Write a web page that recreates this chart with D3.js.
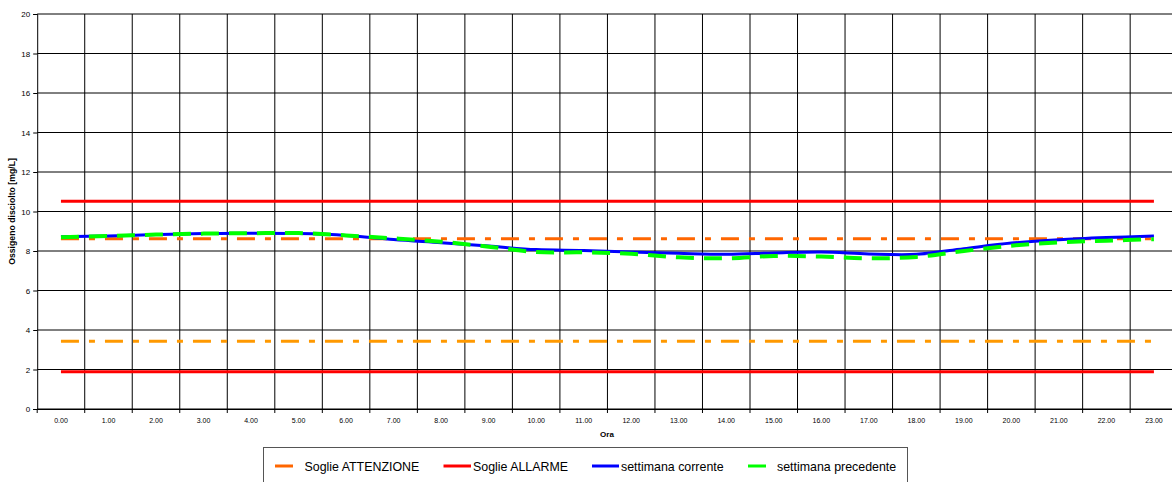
<!DOCTYPE html>
<html><head><meta charset="utf-8">
<script src="https://cdn.jsdelivr.net/npm/d3@7"></script>
<style>body{margin:0;background:#fff;overflow:hidden}svg{display:block;font-family:"Liberation Sans",Arial,sans-serif}</style>
</head><body><svg id="c" width="1172" height="482"></svg>
<script>
const hours = ["0.00","1.00","2.00","3.00","4.00","5.00","6.00","7.00","8.00","9.00","10.00","11.00","12.00","13.00","14.00","15.00","16.00","17.00","18.00","19.00","20.00","21.00","22.00","23.00"];
const corrente = [8.72,8.76,8.83,8.88,8.9,8.88,8.79,8.58,8.42,8.25,8.07,8.03,7.95,7.88,7.83,7.9,7.95,7.85,7.83,8.12,8.4,8.57,8.68,8.76];
const precedente = [8.7,8.76,8.83,8.88,8.9,8.91,8.79,8.64,8.47,8.22,7.95,7.93,7.86,7.68,7.63,7.75,7.72,7.63,7.7,8.0,8.27,8.44,8.52,8.6];
const allarmeAlto = 10.52, allarmeBasso = 1.88;
const attenzioneAlto = 8.62, attenzioneBasso = 3.43;
const yTicks = [0,2,4,6,8,10,12,14,16,18,20];
const legendLabels = ["Soglie ATTENZIONE","Soglie ALLARME","settimana corrente","settimana precedente"];

const svg = d3.select("#c");
const L = 37.2, R = 37.2 + 24*47.52, T = 14, B = 409;
const x = d3.scaleBand().domain(hours).range([L, R]);
const y = d3.scaleLinear().domain([0,20]).range([B, T]);
const cx = h => x(h) + x.bandwidth()/2;

// gridlines
const g = svg.append("g");
g.selectAll(".hg").data(yTicks).join("line")
  .attr("x1", L).attr("x2", 1172).attr("y1", d=>y(d)).attr("y2", d=>y(d))
  .attr("stroke","#000").attr("stroke-width",1);
const bounds = hours.map(h => x(h)).concat([R]);
g.selectAll(".vg").data(bounds.slice(1)).join("line")
  .attr("x1", d=>d).attr("x2", d=>d).attr("y1", T).attr("y2", B)
  .attr("stroke","#000").attr("stroke-width",1);

// axes
const ya = svg.append("g").attr("transform",`translate(${L},0)`)
  .call(d3.axisLeft(y).tickValues(yTicks).tickSize(4).tickPadding(3).tickFormat(d3.format("d")));
ya.select(".domain").attr("stroke","#000");
ya.selectAll("text").attr("font-size",8).attr("fill","#000").attr("font-family","Liberation Sans, Arial");
const xa = svg.append("g").attr("transform",`translate(0,${B})`)
  .call(d3.axisBottom(x).tickSize(0).tickPadding(9));
xa.select(".domain").attr("stroke","#000");
xa.selectAll("text").attr("font-size",7).attr("fill","#000").attr("font-family","Liberation Sans, Arial");
svg.append("g").selectAll("line").data(bounds).join("line")
  .attr("x1",d=>d).attr("x2",d=>d).attr("y1",B).attr("y2",B+4).attr("stroke","#000");

svg.append("text").attr("x",607).attr("y",437).attr("text-anchor","middle")
  .attr("font-size",8).attr("font-weight","bold").text("Ora");
svg.append("text").attr("transform",`translate(15,${(T+B)/2}) rotate(-90)`).attr("text-anchor","middle")
  .attr("font-size",8.7).attr("font-weight","bold").text("Ossigeno disciolto [mg/L]");

// threshold lines
const first = cx(hours[0]), last = cx(hours[hours.length-1]);
const hline = (v, color, dash, w) => svg.append("line")
  .attr("x1", first).attr("x2", last).attr("y1", y(v)).attr("y2", y(v))
  .attr("stroke", color).attr("stroke-width", w).attr("stroke-dasharray", dash);
hline(allarmeAlto, "#ff0000", null, 3);
hline(allarmeBasso, "#ff0000", null, 3);
hline(attenzioneAlto, "#ff6600", "18,10,6,10", 3);
hline(attenzioneBasso, "#ff9900", "18,10,6,10", 3);

const line = d3.line().x((d,i)=>cx(hours[i])).y(d=>y(d)).curve(d3.curveCatmullRom.alpha(0.5));
svg.append("path").attr("d", line(corrente)).attr("fill","none").attr("stroke","#0000ff").attr("stroke-width",3);
svg.append("path").attr("d", line(precedente)).attr("fill","none").attr("stroke","#00ff00").attr("stroke-width",4).attr("stroke-dasharray","18,10");

// legend
svg.append("rect").attr("x",263.5).attr("y",447.5).attr("width",644).attr("height",40)
  .attr("fill","#fff").attr("stroke","#555").attr("stroke-width",1);
const leg = [
  {sx:275, ex:293, tx:304.5, color:"#ff6600"},
  {sx:443.5, ex:471, tx:473, color:"#ff0000"},
  {sx:592, ex:619, tx:621, color:"#0000ff"},
  {sx:748, ex:766, tx:777, color:"#00ff00"}
];
leg.forEach((d,i)=>{
  svg.append("line").attr("x1",d.sx).attr("x2",d.ex).attr("y1",466).attr("y2",466)
    .attr("stroke",d.color).attr("stroke-width",3);
  svg.append("text").attr("x",d.tx).attr("y",470.5).attr("font-size",12.4).attr("fill","#000").text(legendLabels[i]);
});
</script></body></html>
